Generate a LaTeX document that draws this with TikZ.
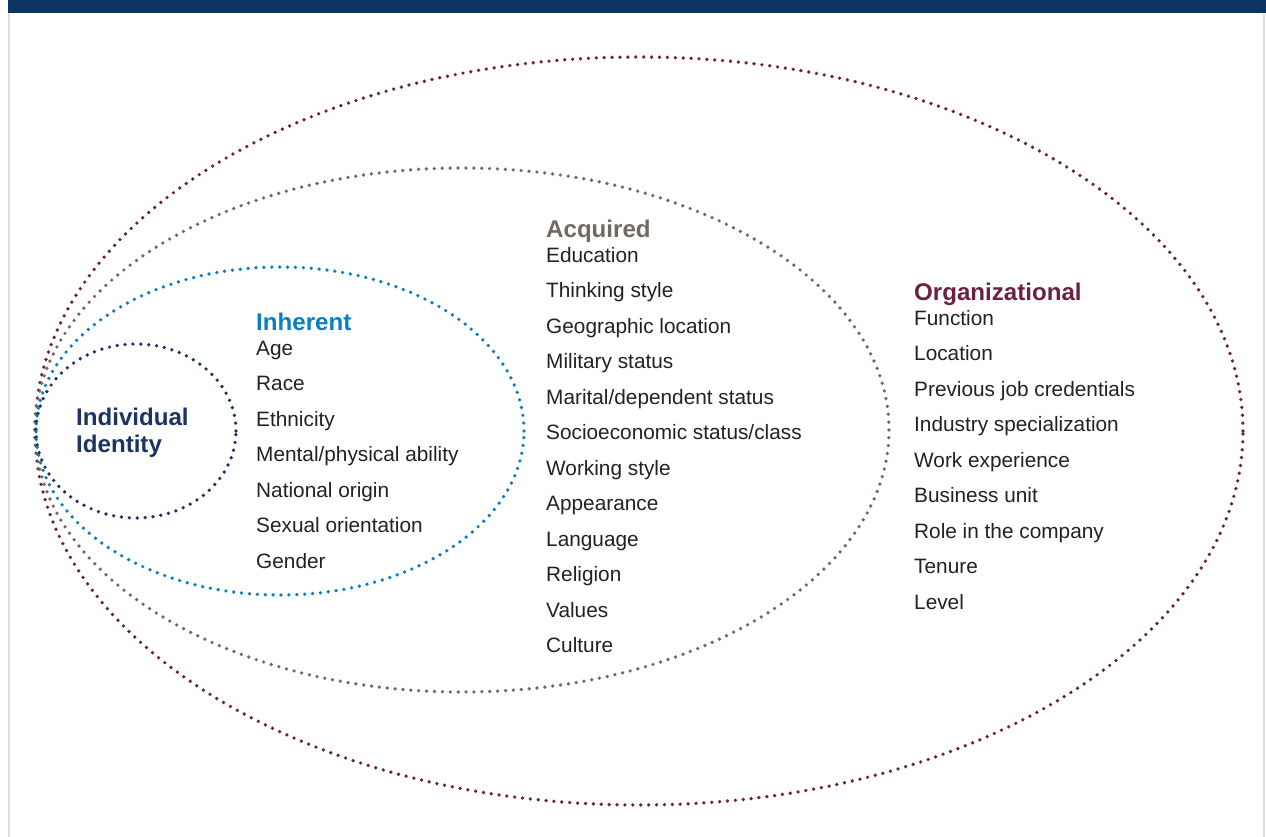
\documentclass[tikz,border=0pt]{standalone}
\usepackage{fontspec}
\setmainfont{Liberation Sans}
\definecolor{barblue}{HTML}{0B3460}
\definecolor{cmaroon}{HTML}{6B2140}
\definecolor{cgray}{HTML}{756862}
\definecolor{cblue}{HTML}{0A7EC2}
\definecolor{cnavy}{HTML}{1A3463}
\definecolor{ctext}{HTML}{222222}
\definecolor{cborder}{HTML}{DDDDDD}
\begin{document}
\begin{tikzpicture}[x=1pt,y=-1pt,
  dots/.style={line width=3.7pt, line cap=round, dash pattern=on 0pt off 7.9pt},
  item/.style={anchor=base west, inner sep=0pt, font=\fontsize{20.8}{24}\selectfont, text=ctext},
  head/.style={anchor=base west, inner sep=0pt, font=\fontsize{24.1}{28}\selectfont\bfseries}]
\useasboundingbox (0,0) rectangle (1266,837);
\fill[white] (0,0) rectangle (1266,837);
\fill[barblue] (8,0) rectangle (1266,13);
\draw[cborder, line width=2pt] (9,13) -- (9,837);
\draw[cborder, line width=2pt] (1264,13) -- (1264,837);
% ellipses
\draw[dots, cmaroon] (639,431) ellipse [x radius=604pt, y radius=374pt];
\draw[dots, cgray] (462,430) ellipse [x radius=427pt, y radius=262pt];
\draw[dots, cblue] (280,431) ellipse [x radius=244pt, y radius=164pt];
\draw[dots, cnavy] (136,431) ellipse [x radius=100pt, y radius=87pt];
% individual identity
\node[head, text=cnavy] (ind1) at (76,425) {Individual};
\node[head, text=cnavy] (ind2) at (76,452) {Identity};
% inherent
\node[head, text=cblue] (inh) at (256,330) {Inherent};
\foreach [count=\i] \t in {Age,Race,Ethnicity,Mental/physical ability,National origin,Sexual orientation,Gender}
  \node[item] (inh-\i) at (256,{355+35.5*(\i-1)}) {\t};
% acquired
\node[head, text=cgray] (acq) at (546,237) {Acquired};
\foreach [count=\i] \t in {Education,Thinking style,Geographic location,Military status,Marital/dependent status,Socioeconomic status/class,Working style,Appearance,Language,Religion,Values,Culture}
  \node[item] (acq-\i) at (546,{262+35.5*(\i-1)}) {\t};
% organizational
\node[head, text=cmaroon] (org) at (914,300) {Organizational};
\foreach [count=\i] \t in {Function,Location,Previous job credentials,Industry specialization,Work experience,Business unit,Role in the company,Tenure,Level}
  \node[item] (org-\i) at (914,{325+35.5*(\i-1)}) {\t};
\end{tikzpicture}
\end{document}
